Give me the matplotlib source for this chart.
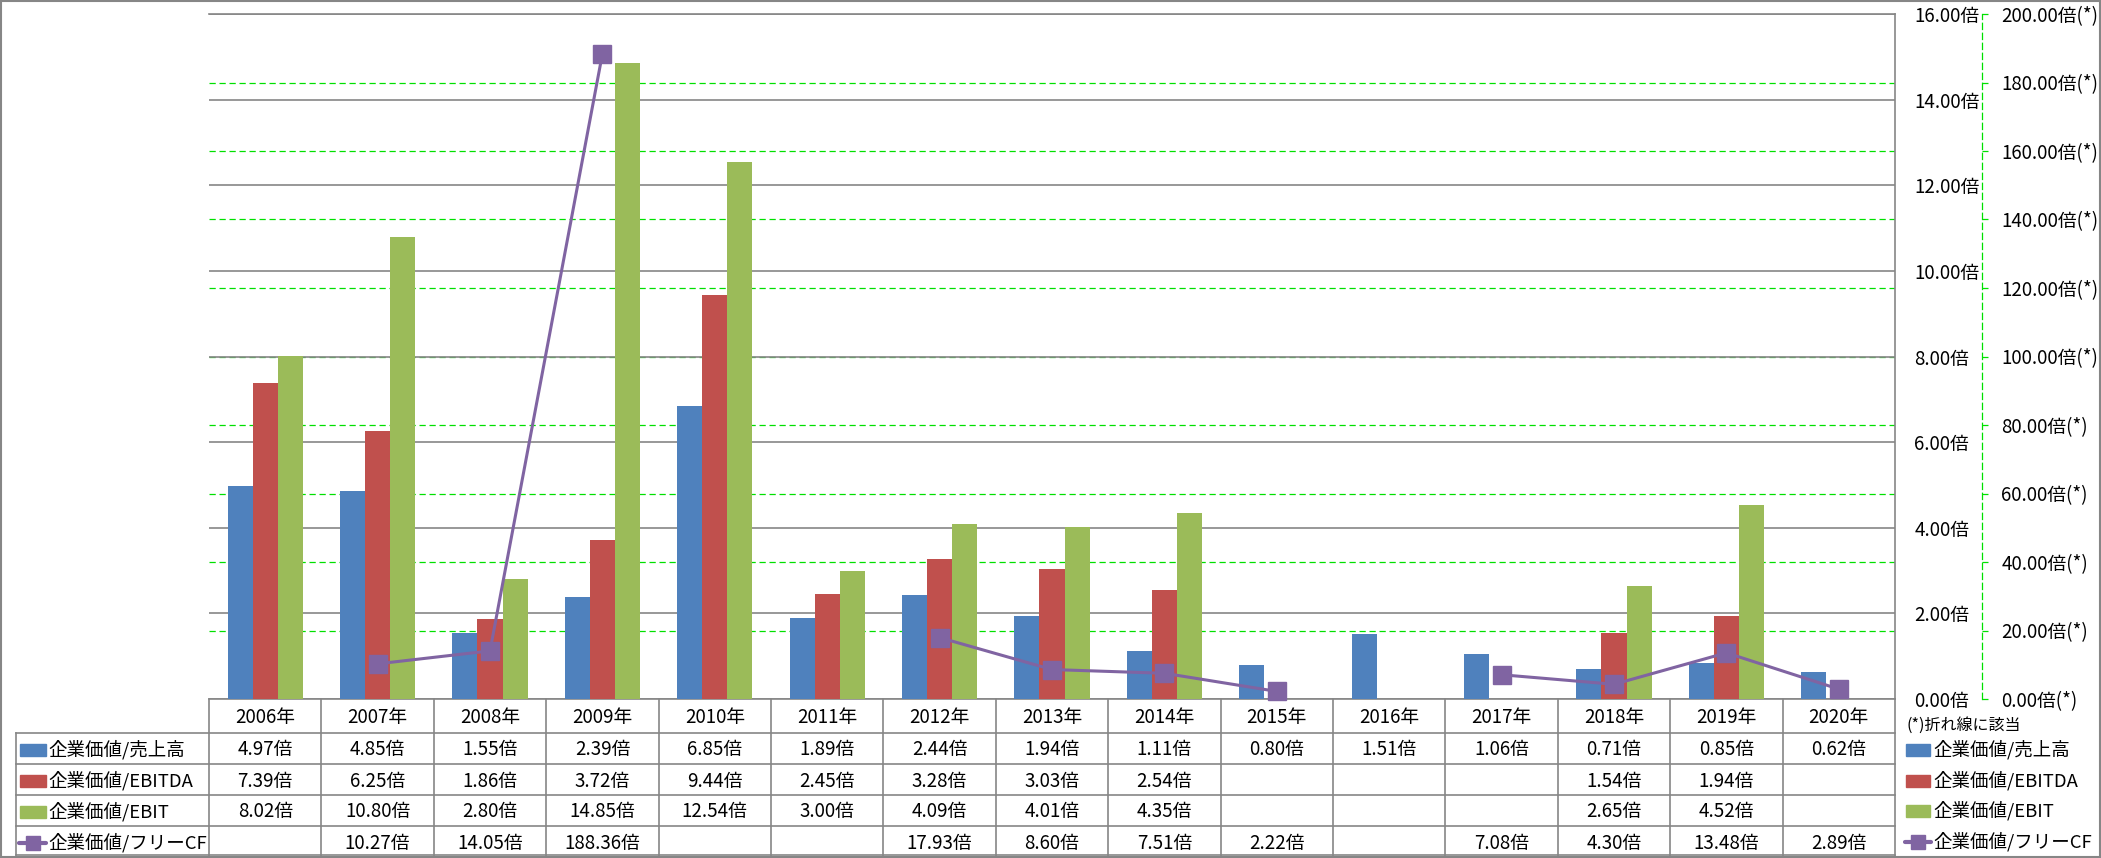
import numpy as np
import matplotlib
matplotlib.use("Agg")
import matplotlib.pyplot as plt
from matplotlib.lines import Line2D
from matplotlib.patches import Rectangle

plt.rcParams['font.family'] = ['Noto Sans CJK JP', 'DejaVu Sans']

# data
years = ["2006年", "2007年", "2008年", "2009年", "2010年", "2011年", "2012年", "2013年",
         "2014年", "2015年", "2016年", "2017年", "2018年", "2019年", "2020年"]
ev_sales = [4.97, 4.85, 1.55, 2.39, 6.85, 1.89, 2.44, 1.94, 1.11, 0.80, 1.51, 1.06, 0.71, 0.85, 0.62]
ev_ebitda = [7.39, 6.25, 1.86, 3.72, 9.44, 2.45, 3.28, 3.03, 2.54, np.nan, np.nan, np.nan, 1.54, 1.94, np.nan]
ev_ebit = [8.02, 10.80, 2.80, 14.85, 12.54, 3.00, 4.09, 4.01, 4.35, np.nan, np.nan, np.nan, 2.65, 4.52, np.nan]
ev_fcf = [np.nan, 10.27, 14.05, 188.36, np.nan, np.nan, 17.93, 8.60, 7.51, 2.22, np.nan, 7.08, 4.30, 13.48, 2.89]
labels = ["企業価値/売上高", "企業価値/EBITDA", "企業価値/EBIT", "企業価値/フリーCF"]
colors = ["#4F81BD", "#C0504D", "#9BBB59", "#8064A2"]
left_ticks = np.arange(0, 17, 2)
right_ticks = np.arange(0, 201, 20)

W, H = 2101, 858
L, R, T, B = 209, 1895, 14, 699
GRID = "#868686"
GREEN = "#00e000"
FS_NUM = 13.5
FS_LAB = 13.3

fig = plt.figure(figsize=(W / 100, H / 100), dpi=100)
rect = [L / W, 1 - B / H, (R - L) / W, (B - T) / H]

# green dashed grid (secondary scale) underneath everything
axg = fig.add_axes(rect, zorder=0)
axg.set_ylim(0, 200)
axg.set_xlim(-0.5, 14.5)
axg.set_yticks(right_ticks[1:-1])
axg.set_xticks([])
axg.tick_params(axis='y', left=False, labelleft=False)
axg.grid(axis='y', color=GREEN, linestyle=(0, (5, 3)), linewidth=0.9)
for s in axg.spines.values():
    s.set_visible(False)

# bars on primary axis
ax = fig.add_axes(rect, zorder=1)
ax.patch.set_visible(False)
x = np.arange(len(years))
w = 0.223
for off, vals, c in zip([-w, 0, w], [ev_sales, ev_ebitda, ev_ebit], colors[:3]):
    ax.bar(x + off, vals, width=w, color=c, zorder=3)
ax.set_xlim(-0.5, 14.5)
ax.set_ylim(0, 16)
ax.set_yticks(left_ticks)
ax.set_yticklabels([f"{v:.2f}倍" for v in left_ticks], fontsize=FS_NUM)
ax.yaxis.tick_right()
ax.tick_params(axis='y', length=0, pad=14)
ax.set_xticks([])
ax.set_axisbelow(True)
ax.grid(axis='y', color=GRID, linewidth=1.2)
ax.spines['left'].set_visible(False)
for k in ['right', 'bottom', 'top']:
    ax.spines[k].set_color(GRID)
    ax.spines[k].set_linewidth(1.2)

# line on secondary axis
ax2 = fig.add_axes(rect, zorder=2)
ax2.patch.set_visible(False)
for k in ['left', 'top', 'bottom']:
    ax2.spines[k].set_visible(False)
ax2.spines['right'].set_position(('axes', (1982 - L) / (R - L)))
ax2.spines['right'].set_color(GREEN)
ax2.spines['right'].set_linestyle((0, (5, 3)))
ax2.spines['right'].set_linewidth(0.9)
ax2.plot(x, ev_fcf, color=colors[3], linewidth=2.2, marker='s', markersize=13,
         markerfacecolor=colors[3], markeredgecolor=colors[3], clip_on=False)
ax2.set_xlim(-0.5, 14.5)
ax2.set_ylim(0, 200)
ax2.set_xticks([])
ax2.yaxis.tick_right()
ax2.set_yticks(right_ticks)
ax2.set_yticklabels([f"{v:.2f}倍(*)" for v in right_ticks])
ax2.tick_params(axis='y', length=4, width=0.9, color=GREEN, pad=10, labelsize=FS_NUM)

# data table below the plot
trans = ax.get_xaxis_transform()
def ay(ypx):
    return (B - ypx) / (B - T)

rows_px = [699, 733, 764, 795, 826, 855]
centers = [750, 781, 812, 843]
for i in range(len(years) + 1):
    ax.add_line(Line2D([i - 0.5, i - 0.5], [ay(B), ay(H + 5)], transform=trans,
                       color=GRID, lw=1.2, clip_on=False))
for yp in rows_px[1:]:
    fig.add_artist(Line2D([16 / W, R / W], [1 - yp / H, 1 - yp / H], color=GRID, lw=1.2))
fig.add_artist(Line2D([16 / W, 16 / W], [1 - 733 / H, 1 - 855 / H], color=GRID, lw=1.2))

for i, yr in enumerate(years):
    ax.text(i, ay(718), yr, transform=trans, ha='center', va='center', fontsize=FS_NUM,
            clip_on=False)

series = [ev_sales, ev_ebitda, ev_ebit, ev_fcf]
for r, vals in enumerate(series):
    yc = centers[r]
    for i, v in enumerate(vals):
        if not np.isnan(v):
            ax.text(i, ay(yc), f"{v:.2f}倍", transform=trans, ha='center', va='center',
                    fontsize=FS_NUM, clip_on=False)
    # row label with key
    fy = 1 - yc / H
    if r < 3:
        fig.add_artist(Rectangle((20 / W, fy - 6 / H), 26 / W, 12 / H, color=colors[r],
                                 transform=fig.transFigure))
    else:
        fig.add_artist(Line2D([19 / W, 46 / W], [fy, fy], color=colors[3], lw=3,
                              solid_capstyle='round', transform=fig.transFigure))
        fig.add_artist(Line2D([32.5 / W], [fy], color=colors[3], marker='s', markersize=9.5,
                              transform=fig.transFigure))
    fig.text(48 / W, fy, labels[r], ha='left', va='center', fontsize=FS_LAB)

# right-side legend
fig.text(1907 / W, 1 - 725 / H, "(*)折れ線に該当", ha='left', va='center', fontsize=11.5)
leg_y = [750, 781, 811, 842]
for r, yc in enumerate(leg_y):
    fy = 1 - yc / H
    if r < 3:
        fig.add_artist(Rectangle((1906 / W, fy - 6 / H), 24 / W, 12 / H, color=colors[r],
                                 transform=fig.transFigure))
    else:
        fig.add_artist(Line2D([1905 / W, 1931 / W], [fy, fy], color=colors[3], lw=3,
                              solid_capstyle='round', transform=fig.transFigure))
        fig.add_artist(Line2D([1918 / W], [fy], color=colors[3], marker='s', markersize=9.5,
                              transform=fig.transFigure))
    fig.text(1933 / W, fy, labels[r], ha='left', va='center', fontsize=FS_LAB)

fig.add_artist(Rectangle((0.0005, 0.001), 0.999, 0.998, fill=False, ec=GRID, lw=1.5,
                         transform=fig.transFigure))

fig.savefig("out.png", dpi=100, facecolor='white')
